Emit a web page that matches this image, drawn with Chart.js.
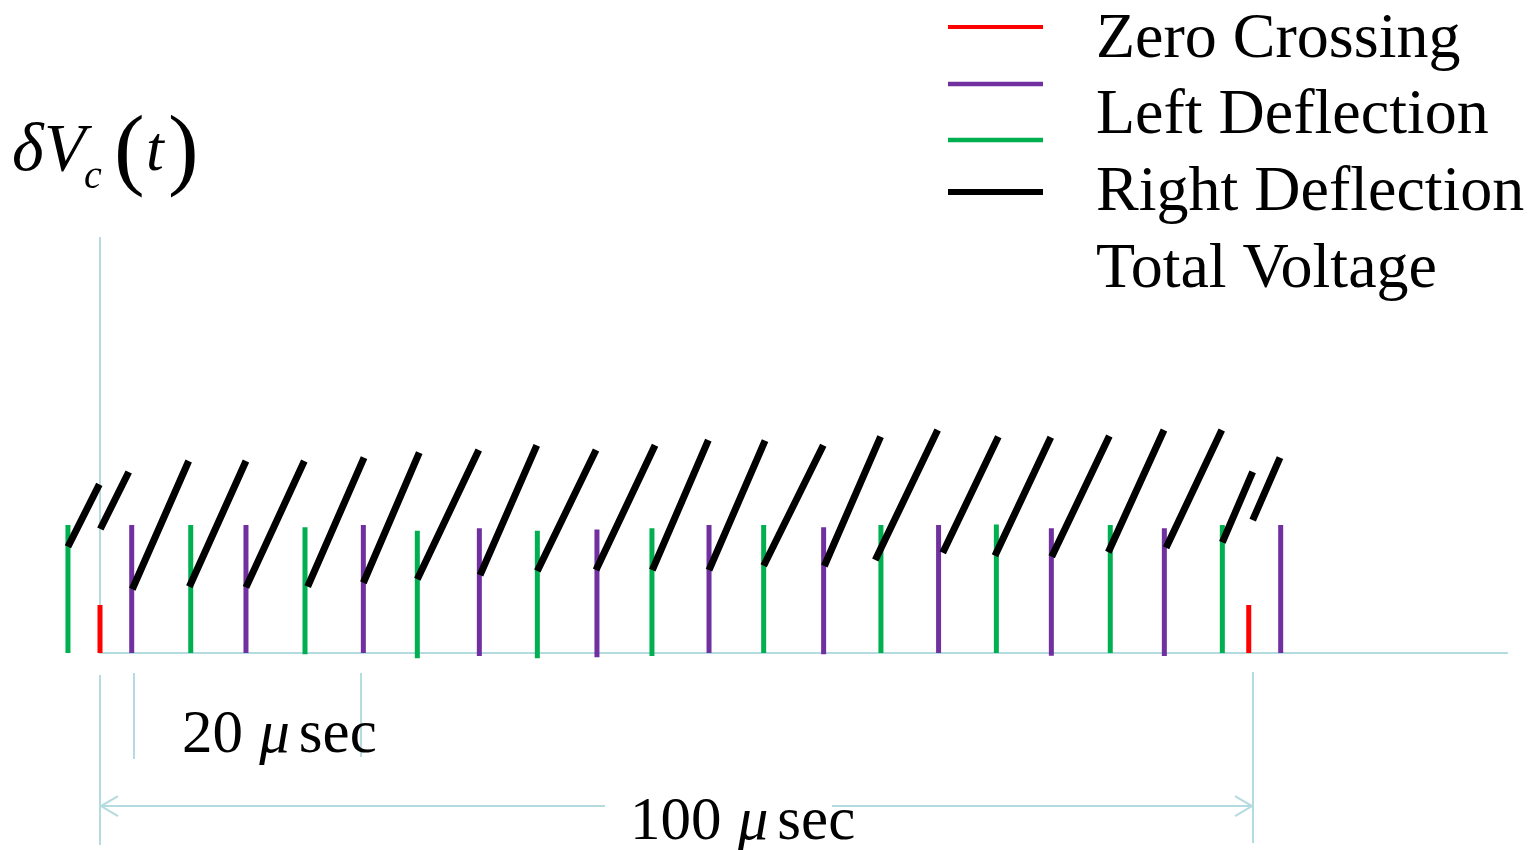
<!DOCTYPE html>
<html>
<head>
<meta charset="utf-8">
<script src="https://cdn.jsdelivr.net/npm/chart.js@4.4.1/dist/chart.umd.min.js"></script>
<style>
  html, body { margin: 0; padding: 0; background: #ffffff; overflow: hidden; }
  canvas { display: block; }
</style>
</head>
<body>
<canvas id="c" width="1537" height="850"></canvas>
<script>
// Time in microseconds, voltage in units of one deflection pulse.

// Zero-crossing pulses
const zeroCrossT   = [0, 99.63];
const zeroCrossTop = [0.375, 0.375];

// Left deflection pulses
const leftDefT      = [2.75, 12.66, 22.84, 32.90, 43.10, 52.82, 62.76, 72.73, 82.51, 92.31, 102.40];
const leftDefTop    = [1.0, 1.0, 1.0, 0.974, 0.966, 1.0, 0.982, 1.0, 0.974, 0.974, 1.0];
const leftDefBottom = [0, 0, 0, -0.023, -0.034, 0, -0.01, 0, -0.021, -0.023, 0];

// Right deflection pulses
const rightDefT      = [-2.78, 7.87, 17.78, 27.52, 37.93, 47.87, 57.56, 67.73, 77.74, 87.62, 97.34];
const rightDefTop    = [1.0, 1.0, 0.982, 0.955, 0.955, 0.974, 1.0, 1.0, 1.005, 1.0, 1.0];
const rightDefBottom = [0, 0, -0.01, -0.041, -0.041, -0.023, 0, 0, 0, 0, 0];

// Total voltage ramps (start and end of each segment)
const rampStartT = [-2.78, 0.03, 2.80, 7.75, 12.66, 18.01, 22.84, 27.52, 32.96, 37.93, 43.02, 47.90,
                    52.82, 57.56, 62.82, 67.24, 73.09, 77.62, 82.54, 87.45, 92.46, 97.34, 99.97];
const rampStartV = [0.830, 0.969, 0.498, 0.518, 0.513, 0.518, 0.549, 0.576, 0.609, 0.641, 0.648, 0.648,
                    0.648, 0.682, 0.680, 0.727, 0.784, 0.760, 0.752, 0.787, 0.823, 0.865, 1.039];
const rampEndT   = [-0.06, 2.49, 7.69, 12.66, 17.72, 22.90, 27.69, 32.85, 37.88, 43.02, 48.14, 52.76,
                    57.68, 62.73, 67.70, 72.65, 77.91, 82.46, 87.54, 92.28, 97.29, 99.97, 102.34];
const rampEndV   = [1.318, 1.414, 1.500, 1.500, 1.500, 1.526, 1.565, 1.586, 1.623, 1.586, 1.623, 1.664,
                    1.659, 1.623, 1.690, 1.742, 1.690, 1.685, 1.695, 1.742, 1.742, 1.416, 1.526];

// Axes extent
const axisTopV     = 3.25;
const baselineEndT = 122.1;

// Dimension markers
const shortSpanT  = [2.95, 22.64];
const longSpanT   = [0, 100];
const shortLabel  = ['20 ', 'μ', 'sec'];
const longLabel   = ['100 ', 'μ', 'sec'];

const seriesLabels = ['Zero Crossing', 'Left Deflection', 'Right Deflection', 'Total Voltage'];
const COLORS = { zero: '#ff0000', left: '#7030a0', right: '#00b050', total: '#000000', axis: '#b4dbe0' };

// Build broken polylines: one vertical stroke per pulse
function pulses(ts, tops, bottoms) {
  const pts = [];
  ts.forEach((t, i) => {
    pts.push({ x: t, y: bottoms ? bottoms[i] : 0 });
    pts.push({ x: t, y: tops[i] });
    pts.push({ x: t, y: null });
  });
  return pts;
}
function ramps() {
  const pts = [];
  rampStartT.forEach((t, i) => {
    pts.push({ x: t, y: rampStartV[i] });
    pts.push({ x: rampEndT[i], y: rampEndV[i] });
    pts.push({ x: rampEndT[i], y: null });
  });
  return pts;
}

const SERIF = '"Liberation Serif", "Times New Roman", "DejaVu Serif", serif';

const decorations = {
  id: 'decorations',
  afterDatasetsDraw(chart) {
    const ctx = chart.ctx;
    const xs = chart.scales.x, ys = chart.scales.y;
    const px = t => xs.getPixelForValue(t);
    const y0 = ys.getPixelForValue(0);

    ctx.save();
    ctx.strokeStyle = COLORS.axis;
    ctx.lineWidth = 2;
    const vline = (x, a, b) => { ctx.beginPath(); ctx.moveTo(x, a); ctx.lineTo(x, b); ctx.stroke(); };

    // dimension tick lines
    vline(px(longSpanT[0]), y0 + 22, y0 + 192);
    vline(px(longSpanT[1]), y0 + 19, y0 + 190);
    vline(px(shortSpanT[0]), y0 + 20, y0 + 106);
    vline(px(shortSpanT[1]), y0 + 20, y0 + 104);

    // long span arrow with gap for its label
    const ay = y0 + 153;
    const xa = px(longSpanT[0]), xb = px(longSpanT[1]);
    ctx.beginPath();
    ctx.moveTo(xa, ay); ctx.lineTo(605, ay);
    ctx.moveTo(832, ay); ctx.lineTo(xb, ay);
    ctx.moveTo(xa + 18, ay - 10); ctx.lineTo(xa + 1, ay); ctx.lineTo(xa + 18, ay + 10);
    ctx.moveTo(xb - 18, ay - 10); ctx.lineTo(xb - 1, ay); ctx.lineTo(xb - 18, ay + 10);
    ctx.stroke();

    ctx.fillStyle = '#000';
    ctx.textBaseline = 'alphabetic';
    ctx.textAlign = 'left';
    const label = (parts, x, y, size) => {
      ctx.font = size + 'px ' + SERIF;
      ctx.fillText(parts[0], x, y);
      x += ctx.measureText(parts[0]).width + 1;
      ctx.font = 'italic ' + size + 'px ' + SERIF;
      ctx.fillText(parts[1], x, y);
      x += ctx.measureText(parts[1]).width + 9;
      ctx.font = size + 'px ' + SERIF;
      ctx.fillText(parts[2], x, y);
    };
    label(shortLabel, 182, 752, 61);
    label(longLabel, 630, 839, 61);

    // y-axis title: δVc(t)
    ctx.font = 'italic 68px ' + SERIF;
    ctx.fillText('δ', 12, 170);
    ctx.fillText('V', 44, 170);
    ctx.font = 'italic 40px ' + SERIF;
    ctx.fillText('c', 84, 188);
    ctx.font = '92px ' + SERIF;
    ctx.fillText('(', 114, 178);
    ctx.fillText(')', 168, 178);
    ctx.font = 'italic 64px ' + SERIF;
    ctx.fillText('t', 146, 170);

    // legend
    const sw = [
      { c: COLORS.zero,  y: 27,  w: 4 },
      { c: COLORS.left,  y: 84,  w: 4.5 },
      { c: COLORS.right, y: 140, w: 4.5 },
      { c: COLORS.total, y: 192, w: 6 }
    ];
    const textY = [57, 133, 210, 287];
    sw.forEach((s, i) => {
      ctx.strokeStyle = s.c;
      ctx.lineWidth = s.w;
      ctx.beginPath(); ctx.moveTo(948, s.y); ctx.lineTo(1043, s.y); ctx.stroke();
    });
    ctx.font = '64px ' + SERIF;
    ctx.fillStyle = '#000';
    seriesLabels.forEach((l, i) => ctx.fillText(l, 1096, textY[i]));
    ctx.restore();
  }
};

new Chart(document.getElementById('c'), {
  type: 'line',
  data: {
    datasets: [
      { label: seriesLabels[3], data: ramps(), borderColor: COLORS.total, borderWidth: 7, order: 0 },
      { label: seriesLabels[0], data: pulses(zeroCrossT, zeroCrossTop), borderColor: COLORS.zero, borderWidth: 5, order: 1 },
      { label: seriesLabels[1], data: pulses(leftDefT, leftDefTop, leftDefBottom), borderColor: COLORS.left, borderWidth: 5, order: 1 },
      { label: seriesLabels[2], data: pulses(rightDefT, rightDefTop, rightDefBottom), borderColor: COLORS.right, borderWidth: 5, order: 1 },
      { label: 'axes', data: [{ x: 0, y: axisTopV }, { x: 0, y: 0 }, { x: baselineEndT, y: 0 }],
        borderColor: COLORS.axis, borderWidth: 2, order: 3 }
    ]
  },
  options: {
    responsive: false,
    devicePixelRatio: 1,
    animation: false,
    layout: { padding: 0 },
    elements: {
      point: { radius: 0, hoverRadius: 0 },
      line: { tension: 0, borderCapStyle: 'butt', borderJoinStyle: 'miter', fill: false }
    },
    spanGaps: false,
    scales: {
      x: { type: 'linear', display: false, min: -8.673, max: 124.63 },
      y: { type: 'linear', display: false, min: -1.539, max: 5.102 }
    },
    plugins: { legend: { display: false }, tooltip: { enabled: false } }
  },
  plugins: [decorations]
});
</script>
</body>
</html>
